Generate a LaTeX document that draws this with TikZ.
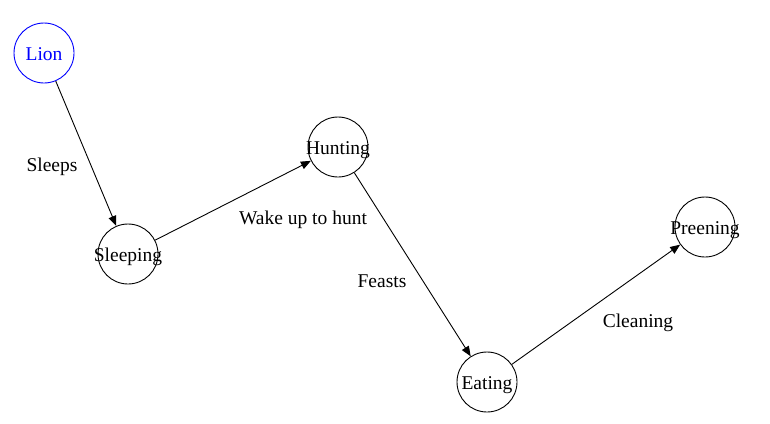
\documentclass[tikz,border=0pt]{standalone}
\usepackage{fontspec}
\setmainfont{Liberation Serif}
\usetikzlibrary{arrows.meta}
\newcommand{\zw}[1]{\raisebox{-7pt}[0pt][0pt]{\makebox[0pt]{#1}}}
\begin{document}
\begin{tikzpicture}[x=1pt,y=-1pt,
  state/.style={circle,draw=black,line width=0.9pt,minimum size=60pt,inner sep=0pt,font=\fontsize{19.5}{22}\selectfont},
  startstate/.style={state,draw=blue,text=blue},
  lbl/.style={font=\fontsize{19.5}{22}\selectfont,inner sep=0pt},
  edge/.style={line width=0.9pt,-{Triangle[length=10pt,width=8pt]}}]
\useasboundingbox (0,0) rectangle (770,423);
\node[startstate] (lion) at (44,53) {\zw{Lion}};
\node[state] (sleeping) at (128,254) {\zw{Sleeping}};
\node[state] (hunting) at (338,147) {\zw{Hunting}};
\node[state] (eating) at (487,382) {\zw{Eating}};
\node[state] (preening) at (705,227) {\zw{Preening}};
\draw[edge] (lion) -- (sleeping);
\draw[edge] (sleeping) -- (hunting);
\draw[edge] (hunting) -- (eating);
\draw[edge] (eating) -- (preening);
\node[lbl] (l1) at (52,166.5) {Sleeps};
\node[lbl] (l2) at (303,219.5) {Wake up to hunt};
\node[lbl] (l3) at (382,281.5) {Feasts};
\node[lbl] (l4) at (638,322.5) {Cleaning};
\end{tikzpicture}
\end{document}
